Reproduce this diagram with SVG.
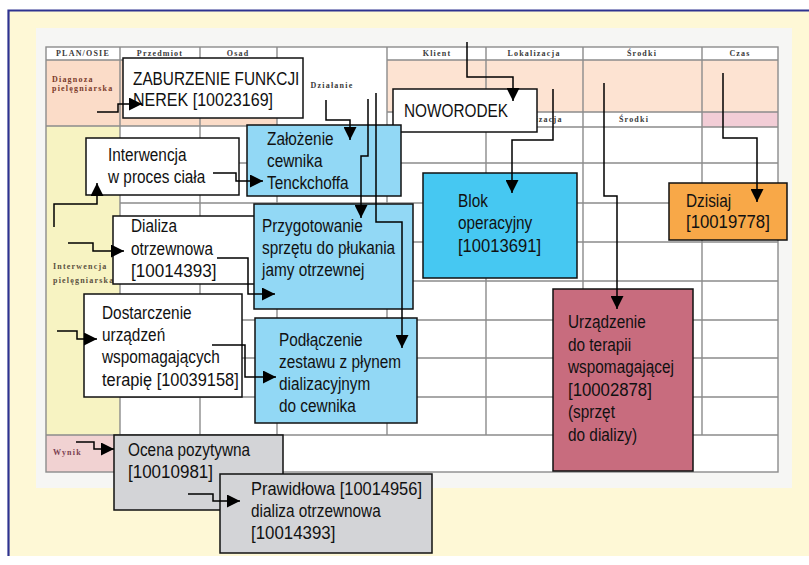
<svg xmlns="http://www.w3.org/2000/svg" width="809" height="565" viewBox="0 0 809 565">
<defs>
<style>
.node rect{stroke:#111;stroke-width:1.5}
.node text{font-family:"Liberation Sans",Arial,sans-serif;font-size:18.5px;fill:#111}
.grid{stroke:#8c8c8c;stroke-width:1.4;fill:none}
.hdr{font-family:"Liberation Serif",serif;font-size:8px;letter-spacing:1.2px;font-weight:bold;fill:#3a3a3a;text-anchor:middle}
.lbl{font-family:"Liberation Serif",serif;font-size:8px;letter-spacing:1.2px;font-weight:bold}
.conn path{stroke:#000;stroke-width:1.5;fill:none;marker-end:url(#arr)}
</style>
<marker id="arr" markerUnits="userSpaceOnUse" markerWidth="13" markerHeight="13" refX="13" refY="6.5" orient="auto" viewBox="0 0 13 13"><path d="M0,0 L13,6.5 L0,13 z" fill="#000"/></marker>
</defs>
<rect x="0" y="0" width="809" height="565" fill="#fff"/>
<rect x="8" y="10" width="801" height="546" fill="#fef8d6"/>
<path d="M8.5,556 V10.5 H809" stroke="#2e3290" stroke-width="2.2" fill="none"/>
<g id="table">
<rect x="36" y="28" width="756" height="460" fill="#f6f6f4"/>
<rect x="46" y="47" width="732" height="425" fill="#fff"/>
<rect x="46" y="60" width="231" height="66" fill="#fbdcc8"/>
<rect x="387" y="60" width="391" height="52" fill="#fde3d2"/>
<rect x="702" y="112" width="76" height="15" fill="#f2cdd6"/>
<rect x="46" y="126" width="74" height="309" fill="#f7f3c2"/>
<rect x="46" y="435" width="74" height="37" fill="#f1d2d2"/>
<rect x="46" y="47" width="732" height="425" class="grid"/>
<path class="grid" d="M46,60 H277 M387,60 H778 M387,112 H778 M387,127 H778 M46,126 H387 M120,163 H778 M120,203 H778 M120,242 H778 M120,281 H778 M120,320 H778 M120,358 H778 M120,397 H778 M46,435 H778 M120,47 V472 M200,47 V435 M277,47 V435 M387,47 V435 M486,47 V435 M583,47 V435 M702,47 V435"/>
<text class="hdr" x="83" y="56">PLAN/OSIE</text>
<text class="hdr" x="160" y="56">Przedmiot</text>
<text class="hdr" x="238" y="56">Osad</text>
<text class="hdr" x="437" y="56">Klient</text>
<text class="hdr" x="534" y="56">Lokalizacja</text>
<text class="hdr" x="642" y="56">Środki</text>
<text class="hdr" x="740" y="56">Czas</text>
<text class="hdr" x="536" y="122">Lokalizacja</text>
<text class="hdr" x="634" y="122">Środki</text>
<text class="hdr" x="332" y="88" fill="#777">Działanie</text>
<text class="lbl" x="52" y="82" fill="#7a3a2a">Diagnoza</text>
<text class="lbl" x="52" y="91" fill="#7a3a2a">pielęgniarska</text>
<text class="lbl" x="53" y="269" fill="#5a5040">Interwencja</text>
<text class="lbl" x="53" y="283" fill="#5a5040">pielęgniarska</text>
<text class="lbl" x="53" y="455" fill="#7a4050">Wynik</text>
</g>
<g id="n-zaburzenie" class="node"><rect x="123" y="58" width="180" height="60" fill="#fff"/><text transform="matrix(.83 0 0 1 133 0)" y="85">ZABURZENIE FUNKCJI</text><text transform="matrix(.83 0 0 1 133 0)" y="106" textLength="168.7" lengthAdjust="spacingAndGlyphs">NEREK [10023169]</text></g>
<g id="n-noworodek" class="node"><rect x="393" y="89" width="144" height="43" fill="#fff"/><text transform="matrix(.83 0 0 1 404 0)" y="117">NOWORODEK</text></g>
<g id="n-zalozenie" class="node"><rect x="247" y="125" width="154" height="71" fill="#92d8f5"/><text transform="matrix(.83 0 0 1 267 0)" y="145">Założenie</text><text transform="matrix(.83 0 0 1 267 0)" y="167">cewnika</text><text transform="matrix(.83 0 0 1 267 0)" y="189">Tenckchoffa</text></g>
<g id="n-interwencja" class="node"><rect x="86" y="138" width="153" height="57" fill="#fff"/><text transform="matrix(.83 0 0 1 108 0)" y="161">Interwencja</text><text transform="matrix(.83 0 0 1 108 0)" y="183">w proces ciała</text></g>
<g id="n-dializa" class="node"><rect x="113" y="216" width="150" height="68" fill="#fff"/><text transform="matrix(.83 0 0 1 131 0)" y="232">Dializa</text><text transform="matrix(.83 0 0 1 131 0)" y="255">otrzewnowa</text><text transform="matrix(.83 0 0 1 131 0)" y="277" textLength="103" lengthAdjust="spacingAndGlyphs">[10014393]</text></g>
<g id="n-przygotowanie" class="node"><rect x="254" y="204" width="159" height="105" fill="#92d8f5"/><text transform="matrix(.83 0 0 1 262 0)" y="232">Przygotowanie</text><text transform="matrix(.83 0 0 1 262 0)" y="254">sprzętu do płukania</text><text transform="matrix(.83 0 0 1 262 0)" y="276">jamy otrzewnej</text></g>
<g id="n-dostarczenie" class="node"><rect x="84" y="294" width="158" height="103" fill="#fff"/><text transform="matrix(.83 0 0 1 102 0)" y="319">Dostarczenie</text><text transform="matrix(.83 0 0 1 102 0)" y="341.5">urządzeń</text><text transform="matrix(.83 0 0 1 102 0)" y="363.5">wspomagających</text><text transform="matrix(.83 0 0 1 102 0)" y="386" textLength="164.7" lengthAdjust="spacingAndGlyphs">terapię [10039158]</text></g>
<g id="n-podlaczenie" class="node"><rect x="255" y="318" width="162" height="105" fill="#92d8f5"/><text transform="matrix(.83 0 0 1 279 0)" y="346">Podłączenie</text><text transform="matrix(.83 0 0 1 279 0)" y="368">zestawu z płynem</text><text transform="matrix(.83 0 0 1 279 0)" y="390">dializacyjnym</text><text transform="matrix(.83 0 0 1 279 0)" y="412.5">do cewnika</text></g>
<g id="n-blok" class="node"><rect x="423" y="173" width="154" height="105" fill="#46c8f2"/><text transform="matrix(.83 0 0 1 458 0)" y="207">Blok</text><text transform="matrix(.83 0 0 1 458 0)" y="229">operacyjny</text><text transform="matrix(.83 0 0 1 458 0)" y="252" textLength="100" lengthAdjust="spacingAndGlyphs">[10013691]</text></g>
<g id="n-dzisiaj" class="node"><rect x="669" y="183" width="118" height="57" fill="#f8a848"/><text transform="matrix(.83 0 0 1 686 0)" y="207">Dzisiaj</text><text transform="matrix(.83 0 0 1 686 0)" y="228" textLength="101" lengthAdjust="spacingAndGlyphs">[10019778]</text></g>
<g id="n-urzadzenie" class="node"><rect x="553" y="289" width="140" height="182" fill="#c86c7e"/><text transform="matrix(.83 0 0 1 568 0)" y="328">Urządzenie</text><text transform="matrix(.83 0 0 1 568 0)" y="350.6">do terapii</text><text transform="matrix(.83 0 0 1 568 0)" y="373.2">wspomagającej</text><text transform="matrix(.83 0 0 1 568 0)" y="395.8" textLength="101" lengthAdjust="spacingAndGlyphs">[10002878]</text><text transform="matrix(.83 0 0 1 568 0)" y="418.4">(sprzęt</text><text transform="matrix(.83 0 0 1 568 0)" y="441">do dializy)</text></g>
<g id="n-ocena" class="node"><rect x="114" y="435" width="169" height="75" fill="#d3d4d7"/><text transform="matrix(.83 0 0 1 128 0)" y="456">Ocena pozytywna</text><text transform="matrix(.83 0 0 1 128 0)" y="478" textLength="102.4" lengthAdjust="spacingAndGlyphs">[10010981]</text></g>
<g id="n-prawidlowa" class="node"><rect x="220" y="474" width="212" height="79" fill="#d3d4d7"/><text transform="matrix(.83 0 0 1 251 0)" y="495" textLength="206" lengthAdjust="spacingAndGlyphs">Prawidłowa [10014956]</text><text transform="matrix(.83 0 0 1 251 0)" y="517">dializa otrzewnowa</text><text transform="matrix(.83 0 0 1 251 0)" y="539" textLength="101.6" lengthAdjust="spacingAndGlyphs">[10014393]</text></g>
<g id="connectors" class="conn">
<path d="M97,112 H118 V104 H142"/>
<path d="M326,100 V120 H350 V140"/>
<path d="M368,99 V156 H361 V218"/>
<path d="M376,93 V222 H402 V348"/>
<path d="M467,42 V77 H513 V101"/>
<path d="M553,89 V140 H512 V193"/>
<path d="M604,83 V196 H617 V309"/>
<path d="M723,73 V138 H757 V202"/>
<path d="M54,227 V204 H97 V183"/>
<path d="M68,243 H93 V251 H124"/>
<path d="M213,173 H236 V181 H263"/>
<path d="M217,258 H248 V294 H275"/>
<path d="M57,331 H77 V339 H97"/>
<path d="M212,345 H245 V377 H276"/>
<path d="M76,442 H94 V449 H114"/>
<path d="M188,494 H213 V501 H240"/>
</g>
</svg>
